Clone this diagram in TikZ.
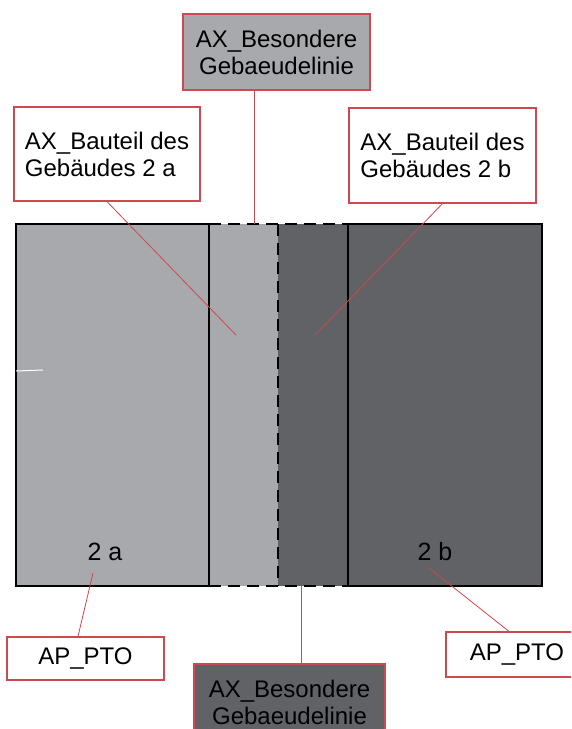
\documentclass[tikz,border=0pt]{standalone}
\usepackage{fontspec}
\setmainfont{Liberation Sans}
\usetikzlibrary{positioning}
\definecolor{lightgrey}{RGB}{168,169,173}
\definecolor{darkgrey}{RGB}{97,98,101}
\definecolor{redline}{RGB}{205,72,80}
\tikzset{
	lblbox/.style={draw=redline, line width=1.2pt, inner sep=0pt, font=\fontsize{24}{27}\selectfont},
	leader/.style={draw=redline, line width=0.8pt},
	wall/.style={line width=2pt, color=black},
	dashwall/.style={line width=2.2pt, color=black, dash pattern=on 12pt off 7pt},
}

\begin{document}
\begin{tikzpicture}[x=1pt, y=-1pt]
			%%%%% START %%%%%
			\useasboundingbox (0, 0) rectangle (571, 729);
			\clip (0, 0) rectangle (571, 729);
			
			\fill[lightgrey] (16, 224) rectangle (278, 586);
			\fill[darkgrey] (278, 224) rectangle (542, 586);
			
			\draw[wall] (209, 224) -- (16, 224) -- (16, 586) -- (209, 586) -- cycle;
			\draw[wall] (348, 224) -- (542, 224) -- (542, 586) -- (348, 586) -- cycle;
			\draw[dashwall] (209, 224) -- (348, 224);
			\draw[dashwall] (209, 586) -- (348, 586);
			\draw[dashwall] (278, 224) -- (278, 586);
			
			\draw[white, line width=1pt] (16, 371) -- (43, 370);
			
			\node[font=\fontsize{25}{28}\selectfont] (teilA) at (105, 552) {2 a};
			\node[font=\fontsize{25}{28}\selectfont] (teilB) at (435, 552) {2 b};
			
			\coordinate (ptA) at (236, 335);
			\coordinate (ptB) at (315, 335);
			\coordinate (ptTop) at (254, 224);
			\coordinate (ptBot) at (301, 586);
			\coordinate (ptPtoA) at (93, 573);
			\coordinate (ptPtoB) at (429, 568);
			
			\node[lblbox, fill=lightgrey, minimum width=187pt, minimum height=76pt, align=center] (linieTop) at (276.5, 52) {AX\_Besondere\\Gebaeudelinie};
			\node[lblbox, fill=darkgrey, minimum width=191pt, minimum height=76pt, align=center] (linieBot) at (289.5, 702) {AX\_Besondere\\Gebaeudelinie};
			\node[lblbox, fill=white, minimum width=186pt, minimum height=94pt, align=left] (bauteilA) at (107, 154) {AX\_Bauteil des\\Gebäudes 2 a};
			\node[lblbox, fill=white, minimum width=187pt, minimum height=95pt, align=left] (bauteilB) at (442.5, 155.5) {AX\_Bauteil des\\Gebäudes 2 b};
			\node[lblbox, fill=white, minimum width=157pt, minimum height=43pt] (ptoA) at (85.5, 658.5) {AP\_PTO};
			\node[lblbox, fill=white, minimum width=142pt, minimum height=45pt] (ptoB) at (517, 654.5) {AP\_PTO};
			
			\draw[leader] ([xshift=-22.5pt]linieTop.south) -- (ptTop);
			\draw[leader] ([xshift=11.5pt]linieBot.north) -- (ptBot);
			\draw[leader] (bauteilA.south) -- (ptA);
			\draw[leader] (bauteilB.south) -- (ptB);
			\draw[leader] ([xshift=-7.5pt]ptoA.north) -- (ptPtoA);
			\draw[leader] ([xshift=-8pt]ptoB.north) -- (ptPtoB);
			
			%%%%% END %%%%%
		\end{tikzpicture}
\end{document}
